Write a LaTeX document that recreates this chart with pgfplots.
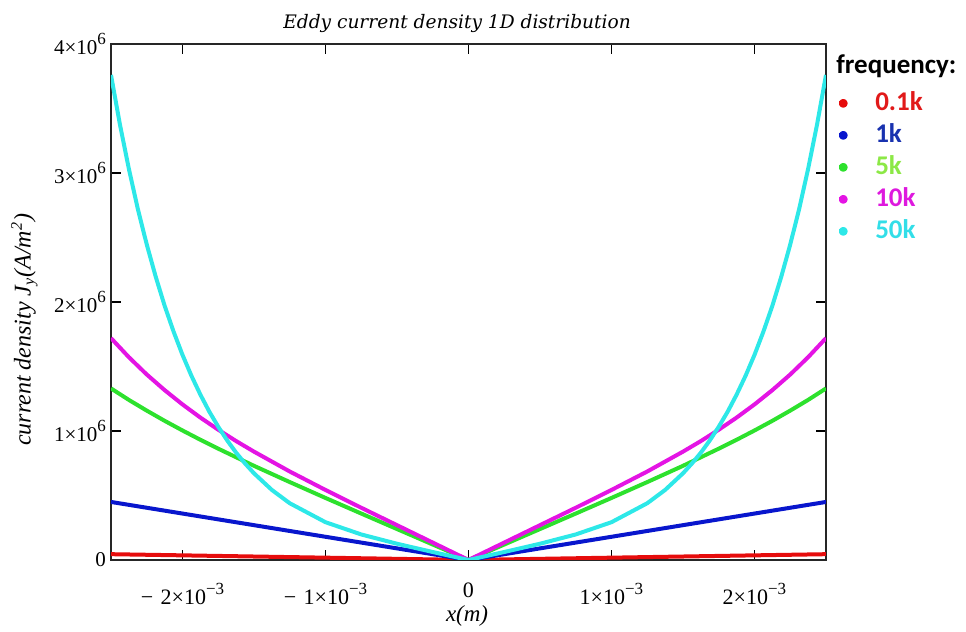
\documentclass[border=0pt]{standalone}
\usepackage{fontspec}
\setmainfont{Liberation Serif}
\newfontfamily\titlefont{DejaVu Serif}
\newfontfamily\legfont{Carlito}
\usepackage{pgfplots}
\pgfplotsset{compat=1.18}
\definecolor{cred}{RGB}{230,12,12}
\definecolor{cblue}{RGB}{8,22,205}
\definecolor{cgreen}{RGB}{45,225,45}
\definecolor{cmag}{RGB}{228,20,228}
\definecolor{ccyan}{RGB}{45,232,232}
\definecolor{tred}{RGB}{225,25,25}
\definecolor{tblue}{RGB}{25,50,175}
\definecolor{tgreen}{RGB}{140,232,70}
\definecolor{tmag}{RGB}{222,25,222}
\definecolor{tcyan}{RGB}{50,222,232}
\newcommand\sups[1]{\raisebox{0.48em}{\fontsize{8.5}{9}\selectfont #1}}

\begin{document}
\begin{tikzpicture}
\path[use as bounding box] (0,0) rectangle (483pt,316pt);
\begin{axis}[
    name=ax,
    at={(55.5pt,36pt)}, anchor=south west,
    width=357.5pt, height=258pt, scale only axis,
    xmin=-2.5, xmax=2.5, ymin=0, ymax=4,
    xtick={-2,-1,0,1,2},
    xticklabels={−\,\,2×10\sups{−3}, −\,\,1×10\sups{−3}, 0, 1×10\sups{−3}, 2×10\sups{−3}},
    ytick={0,1,2,3,4},
    yticklabels={0, 1×10\sups{6}, 2×10\sups{6}, 3×10\sups{6}, 4×10\sups{6}},
    tick align=inside, major tick length=5pt,
    tick style={black, line width=0.6pt},
    axis line style={black!85, line width=0.7pt},
    tick label style={font=\fontsize{10.5}{12}\selectfont},
    xticklabel style={yshift=-8pt, font=\fontsize{11}{12}\selectfont},
    yticklabel style={xshift=1pt},
    title={Eddy current density 1D distribution},
    title style={at={(0.484,1.016)}, anchor=center, yshift=0pt, font=\titlefont\itshape\fontsize{9.3}{11}\selectfont},
    xlabel={\itshape x(m)},
    xlabel style={at={(0.498,-0.108)}, anchor=center, font=\fontsize{11.5}{13}\selectfont},
    ylabel={\itshape current density J\textsubscript{y}(A/m\textsuperscript{2})},
    ylabel style={at={(-0.121,0.446)}, anchor=center, font=\fontsize{12}{13}\selectfont},
    legend image code/.code={\path (0pt,0pt) -- (4pt,0pt); \fill[#1] (2pt,0pt) circle (1.2pt);},
    legend style={at={(1.0152,0.911)}, anchor=north west, draw=none, fill=none,
        inner sep=0pt, column sep=13pt, row sep=3pt,
        nodes={inner sep=0pt, text height=10pt, text depth=3pt},
        font=\legfont\bfseries\fontsize{13.5}{15}\selectfont},
    legend cell align=left,
    every axis plot/.append style={line width=2pt, line join=round},
]
\addplot[cred] coordinates {
    (-2.5,0.045) (-2,0.036) (-1.5,0.027) (-1,0.018) (-0.5,0.009) (0,0)
    (0.5,0.009) (1,0.018) (1.5,0.027) (2,0.036) (2.5,0.045)
};
\addlegendentry{\textcolor{tred}{0.1k}}
\addplot[cblue] coordinates {
    (-2.5,0.45) (-2,0.36) (-1.5,0.27) (-1,0.18) (-0.5,0.09) (0,0)
    (0.5,0.09) (1,0.18) (1.5,0.27) (2,0.36) (2.5,0.45)
};
\addlegendentry{\textcolor{tblue}{1k}}
\addplot[cgreen] coordinates {
    (-2.5,1.33) (-2.375,1.241) (-2.25,1.158) (-2.125,1.079) (-2,1.004) (-1.875,0.932)
    (-1.75,0.863) (-1.5,0.730) (-1.25,0.604)
    (-1,0.481) (-0.75,0.360) (-0.5,0.240) (-0.25,0.120) (0,0)
    (0.25,0.120) (0.5,0.240) (0.75,0.360) (1,0.481) (1.25,0.604)
    (1.5,0.730) (1.75,0.863) (1.875,0.932) (2,1.004) (2.125,1.079)
    (2.25,1.158) (2.375,1.241) (2.5,1.33)
};
\addlegendentry{\textcolor{tgreen}{5k}}
\addplot[cmag] coordinates {
    (-2.5,1.72) (-2.375,1.572) (-2.25,1.438) (-2.125,1.317) (-2,1.206) (-1.875,1.104)
    (-1.75,1.010) (-1.625,0.922) (-1.5,0.840) (-1.25,0.686)
    (-1,0.543) (-0.75,0.405) (-0.5,0.270) (-0.25,0.135) (0,0)
    (0.25,0.135) (0.5,0.270) (0.75,0.405) (1,0.543) (1.25,0.686)
    (1.5,0.840) (1.625,0.922) (1.75,1.010) (1.875,1.104) (2,1.206)
    (2.125,1.317) (2.25,1.438) (2.375,1.572) (2.5,1.72)
};
\addlegendentry{\textcolor{tmag}{10k}}
\addplot[ccyan] coordinates {
    (-2.5,3.76) (-2.4375,3.376) (-2.375,3.032) (-2.3125,2.722) (-2.25,2.446)
    (-2.1875,2.197) (-2.125,1.971) (-2.0625,1.771) (-2,1.590) (-1.9375,1.428)
    (-1.875,1.282) (-1.8125,1.150) (-1.75,1.033) (-1.6875,0.927) (-1.625,0.832)
    (-1.5625,0.748) (-1.5,0.672) (-1.375,0.543) (-1.25,0.440)
    (-1,0.293) (-0.75,0.198) (-0.5,0.126) (-0.25,0.062) (0,0)
    (0.25,0.062) (0.5,0.126) (0.75,0.198) (1,0.293) (1.25,0.440)
    (1.375,0.543) (1.5,0.672) (1.5625,0.748) (1.625,0.832) (1.6875,0.927)
    (1.75,1.033) (1.8125,1.150) (1.875,1.282) (1.9375,1.428) (2,1.590)
    (2.0625,1.771) (2.125,1.971) (2.1875,2.197) (2.25,2.446) (2.3125,2.722)
    (2.375,3.032) (2.4375,3.376) (2.5,3.76)
};
\addlegendentry{\textcolor{tcyan}{50k}}
\end{axis}
\node[anchor=west, inner sep=0pt, font=\legfont\bfseries\fontsize{13.5}{15}\selectfont] at (418pt,283pt) {frequency:};
\end{tikzpicture}
\end{document}
